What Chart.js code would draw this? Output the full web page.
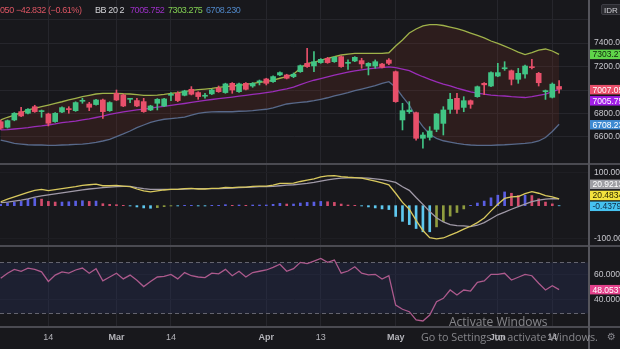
<!DOCTYPE html>
<html>
<head>
<meta charset="utf-8">
<script src="https://cdn.jsdelivr.net/npm/chart.js@4.4.1/dist/chart.umd.min.js"></script>
<style>
  html, body { margin:0; padding:0; width:620px; height:349px; overflow:hidden; background:#18181c; font-family:"Liberation Sans", Arial, sans-serif; }
  canvas { position:absolute; left:0; }
  .sep { position:absolute; left:0; width:620px; background:#4a4a51; }
  .vsep { position:absolute; left:588px; top:0; width:1.5px; height:349px; background:#55555c; }
  .leg { position:absolute; top:4px; font-size:9px; letter-spacing:-0.4px; white-space:nowrap; line-height:12px; }
  .idr { position:absolute; left:601px; top:4px; width:24px; height:11px; background:#2a2a2f; border:1px solid #3d3d44; border-radius:2px; color:#cfcfd4; font-size:8px; line-height:11px; padding-left:2px; box-sizing:border-box; }
  .wm1 { position:absolute; left:449px; top:313px; font-family:"Open Sans", sans-serif; font-size:12px; color:rgba(205,205,210,0.6); white-space:nowrap; }
  .wm2 { position:absolute; left:421px; top:329px; font-family:"Open Sans", sans-serif; font-size:10.8px; color:rgba(205,205,210,0.6); white-space:nowrap; }
  .gear { position:absolute; left:607px; top:331px; font-family:"DejaVu Sans", sans-serif; font-size:10px; color:#85858c; }
</style>
</head>
<body>
<canvas id="pricePane" width="620" height="163" style="top:0;width:620px;height:163px"></canvas>
<canvas id="macdPane" width="620" height="80" style="top:165px;width:620px;height:80px"></canvas>
<canvas id="rsiPane" width="620" height="102" style="top:247px;width:620px;height:102px"></canvas>
<div class="sep" style="top:163px;height:2px"></div>
<div class="sep" style="top:245px;height:2px"></div>
<div class="sep" style="top:326px;height:1.5px"></div>
<div class="vsep"></div>

<div class="leg" style="left:0;color:#dc5563">050 −42.832 (−0.61%)</div>
<div class="leg" style="left:95px;color:#d2d2d6">BB 20 2</div>
<div class="leg" style="left:130px;color:#9b30c4">7005.752</div>
<div class="leg" style="left:168px;color:#82cf52">7303.275</div>
<div class="leg" style="left:206px;color:#4f86c6">6708.230</div>
<div class="idr">IDR</div>

<div class="wm1">Activate Windows</div>
<div class="wm2">Go to Settings to activate Windows.</div>
<div class="gear">⚙</div>

<script>
// ---- daily candles ----
const open = [6730,6683,6745,6816,6802,6858,6816,6796,6731,6813,
  6838,6824,6904,6881,6876,6915,6824,6972,6958,6921,
  6910,6901,6830,6887,6864,6955,6972,6955,7006,6978,
  6947,6967,7015,6978,7057,6986,7057,7034,7069,7094,
  7071,7128,7128,7114,7156,7227,7205,7233,7270,7241,
  7284,7227,7247,7250,7204,7204,7221,7255,7156,6745,
  6815,6807,6589,6597,6665,6716,6835,6929,6852,6909,
  6943,7057,7034,7119,7181,7164,7091,7136,7196,7142,
  6986,6938,7030];
const high = [6745,6745,6808,6853,6842,6870,6830,6803,6808,6856,
  6858,6900,6929,6895,6921,6922,6900,7000,6965,6929,
  6929,6929,6870,6927,6930,6978,6986,6998,7029,6985,
  6972,7006,7034,7058,7063,7058,7063,7063,7085,7100,
  7120,7154,7134,7145,7213,7355,7327,7267,7278,7284,
  7290,7256,7284,7270,7233,7256,7227,7267,7162,6887,
  6901,6813,6637,6688,6801,6858,6972,6972,6943,6915,
  7034,7063,7155,7227,7241,7170,7184,7213,7262,7150,
  7000,7060,7080];
const low = [6665,6676,6738,6772,6796,6810,6768,6694,6725,6808,
  6802,6818,6887,6824,6870,6759,6818,6910,6858,6893,
  6858,6810,6824,6830,6858,6910,6901,6950,6958,6921,
  6930,6961,6980,6972,6972,6980,7000,7023,7043,7043,
  7065,7122,7094,7105,7150,7193,7156,7227,7227,7235,
  7193,7176,7241,7185,7128,7185,7187,7216,6895,6660,
  6801,6574,6504,6574,6645,6617,6801,6801,6815,6844,
  6938,6960,7028,7113,7167,7043,7057,7100,7180,7034,
  6920,6932,6972];
const close = [6675,6739,6802,6779,6836,6816,6820,6717,6802,6850,
  6833,6893,6910,6853,6915,6816,6893,6915,6864,6926,
  6864,6816,6864,6921,6924,6960,6910,6992,6964,6944,
  6952,7000,6986,7052,7000,7052,7006,7057,7071,7057,
  7114,7148,7100,7134,7207,7199,7241,7261,7233,7278,
  7199,7230,7278,7222,7227,7241,7193,7227,6901,6824,
  6830,6589,6617,6651,6796,6830,6921,6835,6909,6878,
  7028,7044,7148,7148,7186,7091,7142,7204,7190,7062,
  6990,7049.88,7007.05];

// ---- Bollinger Bands (20, 2) ----
const bbUpper = [6745,6768,6787,6807,6830,6844,6858,6872,6887,6900,
  6915,6929,6943,6955,6966,6972,6972,6972,6968,6966,
  6960,6955,6955,6957,6963,6972,6977,6986,6997,7003,
  7008,7014,7023,7028,7034,7040,7048,7057,7065,7071,
  7085,7100,7113,7134,7185,7227,7236,7255,7270,7283,
  7298,7306,7312,7312,7312,7312,7312,7317,7374,7426,
  7485,7519,7545,7557,7557,7549,7536,7523,7506,7485,
  7464,7443,7417,7396,7374,7349,7323,7302,7319,7340,
  7349,7332,7303.275];
const bbBasis = [6660,6662,6668,6674,6679,6688,6694,6702,6711,6722,
  6728,6736,6746,6754,6766,6778,6792,6803,6814,6822,
  6830,6838,6846,6854,6861,6869,6877,6885,6894,6903,
  6912,6919,6926,6933,6940,6947,6955,6963,6970,6978,
  6986,6998,7010,7024,7045,7066,7083,7097,7112,7127,
  7140,7152,7163,7172,7180,7186,7190,7196,7190,7178,
  7164,7138,7113,7090,7069,7051,7035,7016,7000,6984,
  6974,6964,6957,6952,6949,6943,6940,6936,6944,6955,
  6965,6986,7005.752];
const bbLower = [6574,6560,6546,6540,6534,6532,6532,6529,6529,6532,
  6534,6538,6540,6546,6555,6566,6580,6603,6626,6651,
  6679,6702,6725,6739,6751,6756,6762,6770,6787,6802,
  6810,6813,6815,6815,6815,6819,6821,6824,6830,6836,
  6847,6864,6881,6889,6895,6900,6909,6921,6934,6949,
  6963,6977,6994,7008,7023,7037,7057,7071,7023,6943,
  6872,6768,6688,6623,6589,6568,6557,6546,6538,6532,
  6528,6528,6529,6532,6534,6538,6542,6546,6553,6566,
  6596,6647,6708.23];

// ---- MACD (12, 26, 9) ----
const macdLine = [12,20,27,34,41,47,50,46,49,52,
  55,58,62,64,66,61,61,62,60,58,
  51,45,42,45,48,50,50,52,53,51,
  51,53,53,56,55,57,57,59,60,60,
  63,68,68,69,74,78,82,88,91,92,
  89,87,86,84,80,75,70,64,38,10,
  -11,-45,-76,-98,-102,-99,-90,-82,-72,-63,
  -52,-38,-16,4,22,27,28,37,43,38,
  31,27,20.4834];
const signalLine = [9,11,14,17,21,26,30,33,36,39,
  42,45,48,51,53,55,57,58,59,59,
  55,52,50,50,50,50,50,51,52,52,
  52,52,52,53,54,55,56,57,58,58,
  59,61,63,64,66,68,71,75,79,82,
  84,85,85,85,84,82,80,76,71,58,
  47,25,4,-18,-37,-50,-58,-61,-62,-64,
  -60,-52,-40,-28,-20,-11,-3,5,12,17,
  20,21.5,20.9213];
const histogram = [4,8,10,13,20,22,20,13,11,11,
  12,14,15,13,14,6,4,3,1,-1,
  -4,-7,-8,-6,-3,-1,-1,1,1,-1,
  -1,1,1,3,1,2,1,2,2,2,
  4,7,5,5,8,10,11,13,12,10,
  5,2,1,-1,-4,-7,-10,-12,-33,-48,
  -58,-70,-80,-80,-65,-49,-32,-21,-10,1,
  8,14,24,32,42,38,31,32,31,21,
  11,5.5,-0.4379];

// ---- RSI (14) ----
const rsi = [57,61,64,62.5,65,64,62,54.5,59.5,62,
  61,63.5,65,61,64.5,55,58,61,56.5,59.5,
  55.5,50.5,54.5,58,58.5,60,56.5,61.5,59,58,
  57.5,61,60.5,64,59,62.5,58,61.5,62.5,63.5,
  65.5,68,62.5,64.5,69.5,68.5,70.5,72.5,69.5,71.3,
  61,62.7,66,61,59.6,60.1,56.4,59,36,32.7,
  30.8,24.3,23.5,28.2,38.6,41.3,47.8,43.9,47.8,47,
  53.8,54.9,60.1,60.1,60.9,55.6,57.8,60.1,59,53.1,
  47.8,51.2,48.0537];
const rsiUpper = 70, rsiLower = 30;

// ---- axis ticks ----
const timeTickIndex = [7, 17, 25, 39, 47, 58, 73, 81];
const timeTickLabel = ['14', 'Mar', '14', 'Apr', '13', 'May', 'Jun', '14'];
const priceGridTicks = [6600, 6800, 7000, 7200, 7400, 7600];
const priceLabelTicks = [6600, 6800, 7200, 7400];
const macdTicks = [100, -100];
const rsiTicks = [40, 60];

// ---- drawing ----
const FONT = '"Liberation Sans", Arial, sans-serif';
const GRID = '#26262c';
const UP = '#41c485', DOWN = '#e8506b';
const X_MIN = -0.103, X_MAX = 86.39;
const idx = close.map((_, i) => i);
const candleColor = idx.map(i => close[i] >= open[i] ? UP : DOWN);
const histColor = histogram.map((v, i) => {
  const prev = i > 0 ? histogram[i - 1] : 0;
  if (v >= 0) return v >= prev ? '#5a5ee2' : '#d24c6c';
  return v <= prev ? '#5ec8ef' : '#8f9c3f';
});

function xScale(showLabels) {
  return {
    type: 'linear', min: X_MIN, max: X_MAX, offset: false,
    grid: { color: GRID, drawTicks: false, offset: false },
    border: { display: false },
    afterBuildTicks: s => { s.ticks = timeTickIndex.map(v => ({ value: v })); },
    ticks: showLabels ? {
      autoSkip: false, maxRotation: 0, minRotation: 0, padding: 6, color: '#b3b3b9',
      font: c => ({ family: FONT, size: 9, weight: /^[A-Z]/.test(timeTickLabel[c.index] || '') ? 'bold' : 'normal' }),
      callback: (v, i) => timeTickLabel[i]
    } : { display: false },
    afterFit: s => { s.height = showLabels ? 23 : 0; s.paddingLeft = 0; s.paddingRight = 0; }
  };
}

function yScale(min, max, gridTicks, labelTicks, digits, gridColor) {
  return {
    position: 'right', min, max,
    grid: { color: gridColor, drawTicks: false },
    border: { display: false },
    afterBuildTicks: s => { s.ticks = gridTicks.map(v => ({ value: v })); },
    ticks: {
      autoSkip: false, padding: 5, color: '#c7c7cd', font: { family: FONT, size: 8.5 },
      callback: v => labelTicks.includes(v) ? v.toFixed(digits) : ''
    },
    afterFit: s => { s.width = 31; s.paddingTop = 0; s.paddingBottom = 0; }
  };
}

// last-value tags on the right-hand scale
function valueTags(items) {
  return {
    id: 'valueTags',
    afterDraw(chart) {
      const ctx = chart.ctx, ys = chart.scales.y;
      ctx.save();
      ctx.font = '8.5px ' + FONT;
      ctx.textBaseline = 'middle';
      for (const t of items) {
        const y = ys.getPixelForValue(t.value) + t.dy;
        ctx.fillStyle = t.bg;
        ctx.fillRect(589.5, y - 4.75, 31, 9.5);
        ctx.fillStyle = t.fg;
        ctx.fillText(t.value.toFixed(t.digits), 592.5, y + 0.5);
      }
      ctx.restore();
    }
  };
}

// overbought / oversold band for RSI
function rsiBand(upper, lower) {
  return {
    id: 'rsiBand',
    beforeDatasetsDraw(chart) {
      const { ctx, chartArea: a, scales: { y } } = chart;
      const yTop = Math.round(y.getPixelForValue(upper)) + 0.5;
      const yBot = Math.round(y.getPixelForValue(lower)) + 0.5;
      ctx.save();
      ctx.fillStyle = 'rgba(40,50,92,0.32)';
      ctx.fillRect(a.left, yTop, a.right - a.left, yBot - yTop);
      ctx.setLineDash([4, 3]);
      ctx.strokeStyle = '#64646f';
      ctx.lineWidth = 1;
      for (const yy of [yTop, yBot]) {
        ctx.beginPath(); ctx.moveTo(a.left, yy); ctx.lineTo(a.right, yy); ctx.stroke();
      }
      ctx.restore();
    }
  };
}

const base = {
  animation: false, responsive: false, maintainAspectRatio: false, events: [],
  layout: { padding: 0, autoPadding: false }
};
const noChrome = { legend: { display: false }, tooltip: { enabled: false } };
const line = (data, color, order, extra) => Object.assign({
  type: 'line', data: idx.map(i => ({ x: i, y: data[i] })), borderColor: color,
  borderWidth: 1.3, pointRadius: 0, tension: 0, order
}, extra || {});

// price pane: candles + Bollinger Bands
new Chart(document.getElementById('pricePane'), {
  type: 'bar',
  data: { datasets: [
    { type: 'bar', data: idx.map(i => ({ x: i, y: [open[i], close[i]] })), backgroundColor: candleColor,
      barThickness: 5, minBarLength: 1, grouped: false, order: 0 },
    { type: 'bar', data: idx.map(i => ({ x: i, y: [low[i], high[i]] })), backgroundColor: candleColor,
      barThickness: 1, grouped: false, order: 1 },
    line(bbBasis, '#9a2db8', 2),
    line(bbUpper, '#9fb24a', 3, { fill: { target: 4 }, backgroundColor: 'rgba(122,50,36,0.22)' }),
    line(bbLower, '#58698a', 2.5)
  ]},
  options: Object.assign({}, base, {
    scales: { x: xScale(false), y: yScale(6378.7, 7766, priceGridTicks, priceLabelTicks, 2, GRID) },
    plugins: noChrome
  }),
  plugins: [valueTags([
    { value: bbUpper[82], digits: 2, bg: '#5fd64a', fg: '#10240c', dy: 0 },
    { value: close[82], digits: 2, bg: '#e8506b', fg: '#ffffff', dy: 0.5 },
    { value: bbBasis[82], digits: 2, bg: '#a21fe8', fg: '#ffffff', dy: 11.5 },
    { value: bbLower[82], digits: 2, bg: '#3f8bd2', fg: '#ffffff', dy: 0.5 }
  ])]
});

// MACD pane
new Chart(document.getElementById('macdPane'), {
  type: 'bar',
  data: { datasets: [
    line(macdLine, '#d9c95e', 0),
    line(signalLine, '#a19aa8', 1),
    { type: 'bar', data: idx.map(i => ({ x: i, y: histogram[i] })), backgroundColor: histColor,
      barThickness: 2, grouped: false, order: 2 }
  ]},
  options: Object.assign({}, base, {
    scales: { x: xScale(false), y: yScale(-120.5, 124.5, macdTicks, macdTicks, 3, '#1e1e23') },
    plugins: noChrome
  }),
  plugins: [valueTags([
    { value: signalLine[82], digits: 4, bg: '#9e9ea3', fg: '#ffffff', dy: -14.5 },
    { value: macdLine[82], digits: 4, bg: '#f2e23e', fg: '#2a2600', dy: -3.5 },
    { value: histogram[82], digits: 4, bg: '#46c2f0', fg: '#0d2a44', dy: 0.5 }
  ])]
});

// RSI pane with the time axis
new Chart(document.getElementById('rsiPane'), {
  type: 'line',
  data: { datasets: [ line(rsi, '#ad5a8d', 0) ] },
  options: Object.assign({}, base, {
    scales: { x: xScale(true), y: yScale(19.57, 81.53, rsiTicks, rsiTicks, 4, '#1f1f25') },
    plugins: noChrome
  }),
  plugins: [rsiBand(rsiUpper, rsiLower), valueTags([
    { value: rsi[82], digits: 4, bg: '#e4428c', fg: '#ffffff', dy: 0 }
  ])]
});
</script>
</body>
</html>
